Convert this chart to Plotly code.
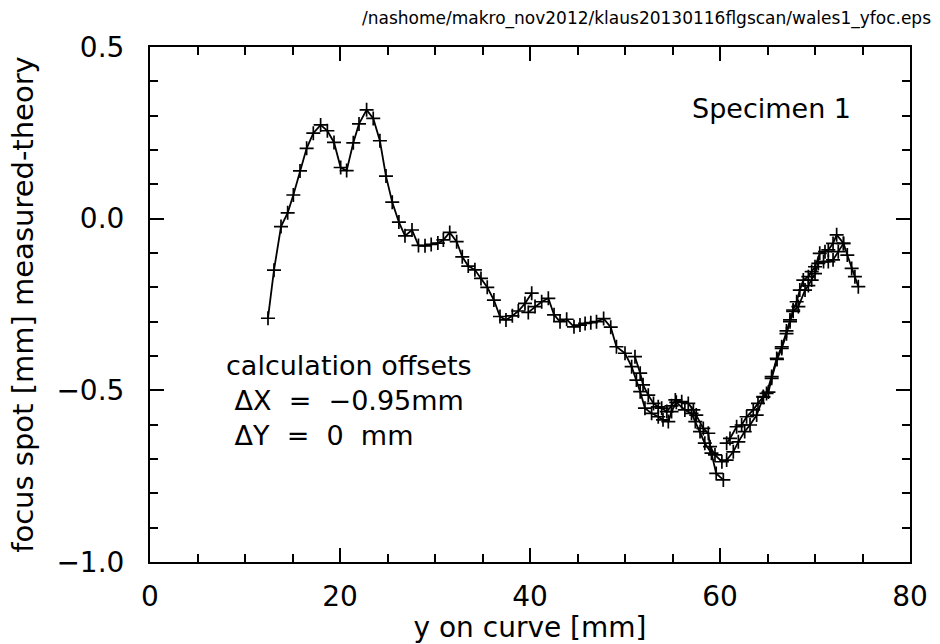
import plotly.graph_objects as go

# Segment A (single scan, left part)
seg_a_x = [12.42, 13.05, 13.79, 14.49, 15.09, 15.79, 16.49, 17.19, 17.96, 18.67, 19.37, 20.07, 20.7, 21.4,
           22.0, 22.8, 23.5, 24.2, 24.84, 25.5, 26.2, 26.84, 27.58, 28.26, 28.95, 29.6, 30.3, 30.88, 31.55,
           32.28, 32.87, 33.5, 34.2, 34.84, 35.5, 36.2, 36.84, 37.47, 38.14, 38.77, 39.47, 40.18]
seg_a_y = [-0.29, -0.15, -0.023, 0.017, 0.069, 0.139, 0.205, 0.249, 0.273, 0.256, 0.222, 0.149, 0.14, 0.221,
           0.276, 0.317, 0.292, 0.227, 0.124, 0.048, -0.01, -0.05, -0.033, -0.078, -0.079, -0.075, -0.071, -0.062, -0.04,
           -0.067, -0.111, -0.138, -0.149, -0.174, -0.2, -0.237, -0.285, -0.295, -0.283, -0.269, -0.247, -0.217]

# Segment B
seg_b_x = [39.82, 40.53, 41.23, 41.93, 42.53, 43.16, 43.86, 44.63, 45.26, 45.8, 46.4, 47.0, 47.75, 48.5,
           49.1, 50.0, 50.7, 51.2, 51.6, 52.1, 52.8, 53.5, 54.0, 54.56, 54.9, 55.4, 56.3, 57.0, 57.4, 57.9,
           58.4, 59.1, 59.6, 60.35]
seg_b_y = [-0.273, -0.256, -0.242, -0.232, -0.28, -0.3, -0.293, -0.315, -0.31, -0.305, -0.303, -0.3, -0.291, -0.316,
           -0.373, -0.392, -0.431, -0.47, -0.504, -0.552, -0.567, -0.577, -0.586, -0.591, -0.562, -0.535, -0.557, -0.567,
           -0.591, -0.62, -0.654, -0.683, -0.742, -0.761]

# Segment C
seg_c_x = [51.05, 51.6, 51.9, 52.45, 53.0, 53.5, 53.86, 54.4, 54.9, 55.3, 55.97, 56.66, 57.2, 57.5, 58.24,
           58.77, 58.95, 59.47, 60.2, 60.7, 61.4, 61.93, 62.6, 63.16, 63.86, 64.56, 64.9, 65.44, 65.97, 66.5,
           67.0, 67.37, 67.7, 68.25, 68.95, 69.3, 69.65, 70.0, 70.35, 70.9, 71.4, 71.9, 72.45, 73.0, 73.4,
           73.86, 74.2, 74.56]
seg_c_y = [-0.402, -0.45, -0.484, -0.514, -0.538, -0.548, -0.552, -0.562, -0.545, -0.528, -0.533, -0.538, -0.557,
           -0.572, -0.611, -0.625, -0.664, -0.688, -0.708, -0.703, -0.679, -0.65, -0.62, -0.601, -0.572, -0.52, -0.509,
           -0.46, -0.407, -0.373, -0.327, -0.295, -0.27, -0.256, -0.208, -0.195, -0.179, -0.16, -0.13, -0.125, -0.125,
           -0.12, -0.096, -0.072, -0.106, -0.145, -0.169, -0.198]

# Segment D
seg_d_x = [60.7, 61.05, 61.75, 62.28, 62.8, 63.5, 64.0, 64.56, 65.1, 65.44, 66.0, 66.5, 67.0, 67.37, 67.7,
           68.07, 68.4, 68.77, 69.3, 69.65, 70.0, 70.5, 71.05, 71.4, 71.9, 72.28, 73.0]
seg_d_y = [-0.654, -0.64, -0.606, -0.601, -0.577, -0.557, -0.538, -0.518, -0.505, -0.465, -0.41, -0.378, -0.335,
           -0.3, -0.266, -0.242, -0.208, -0.179, -0.169, -0.154, -0.14, -0.101, -0.096, -0.091, -0.072, -0.047, -0.072]

FONT = "DejaVu Sans"

fig = go.Figure()
for sx, sy in [(seg_a_x, seg_a_y), (seg_b_x, seg_b_y), (seg_c_x, seg_c_y), (seg_d_x, seg_d_y)]:
    fig.add_trace(go.Scatter(
        x=sx, y=sy, mode="lines+markers",
        line=dict(color="black", width=1.8),
        marker=dict(symbol="cross-thin", size=10, line=dict(color="black", width=1.7)),
        showlegend=False,
    ))

axis_common = dict(
    showgrid=False, zeroline=False, showline=True, linecolor="black", linewidth=2,
    mirror="allticks", ticks="inside", ticklen=14, tickwidth=2, tickcolor="black",
    tickfont=dict(family=FONT, size=28, color="black"),
)

fig.update_xaxes(
    range=[0, 80], dtick=20, tick0=0,
    minor=dict(dtick=5, ticks="inside", ticklen=8, tickwidth=2, tickcolor="black"),
    title=dict(text="y on curve [mm]", font=dict(family=FONT, size=28, color="black"), standoff=0),
    ticklabelstandoff=8,
    **axis_common,
)
fig.update_yaxes(
    range=[-1.0, 0.5], dtick=0.5, tick0=0, tickformat=".1f",
    minor=dict(dtick=0.1, ticks="inside", ticklen=8, tickwidth=2, tickcolor="black"),
    title=dict(text="focus spot [mm] measured-theory", font=dict(family=FONT, size=29, color="black"), standoff=14),
    ticklabelstandoff=18,
    **axis_common,
)

fig.add_annotation(text="Specimen 1", xref="paper", yref="paper", x=0.925, y=0.88,
                   xanchor="right", yanchor="middle", showarrow=False,
                   font=dict(family=FONT, size=27, color="black"))
fig.add_annotation(text="calculation offsets<br> ΔX  =  −0.95mm<br> ΔY  =  0  mm", xref="paper", yref="paper",
                   x=0.098, y=0.415, xanchor="left", yanchor="top", align="left", showarrow=False,
                   font=dict(family=FONT, size=27, color="black"))
fig.add_annotation(text="/nashome/makro_nov2012/klaus20130116flgscan/wales1_yfoc.eps", xref="paper", yref="paper",
                   x=1.03, y=1.055, xanchor="right", yanchor="middle", showarrow=False,
                   font=dict(family=FONT, size=17, color="black"))

fig.update_layout(
    width=940, height=644,
    margin=dict(l=150, r=30, t=47, b=82),
    plot_bgcolor="white", paper_bgcolor="white",
)

fig.write_html("out.html")
